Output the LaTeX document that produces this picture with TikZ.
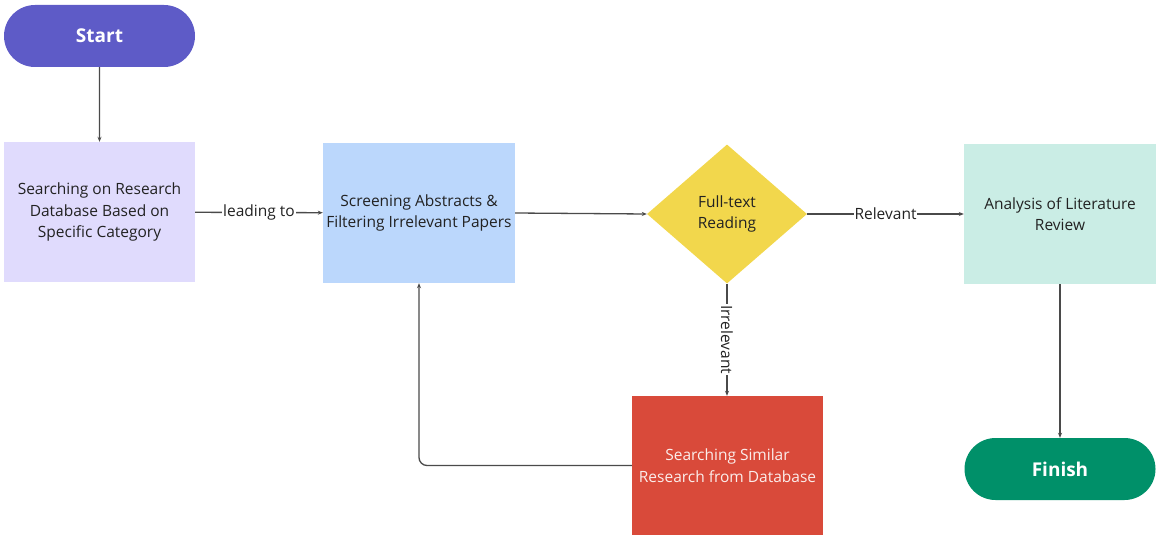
\documentclass[tikz,border=0pt]{standalone}
\usepackage{fontspec}
\setmainfont{Open Sans}
\usetikzlibrary{shapes.geometric,shapes.misc,arrows.meta}
\definecolor{startc}{HTML}{5E5BC7}
\definecolor{lav}{HTML}{E0DBFD}
\definecolor{bluec}{HTML}{BBD7FC}
\definecolor{yel}{HTML}{F2D74C}
\definecolor{mint}{HTML}{CAEDE5}
\definecolor{redc}{HTML}{D94A3A}
\definecolor{finc}{HTML}{009069}
\definecolor{linec}{HTML}{4A4A4A}
\definecolor{txt}{HTML}{222222}
\tikzset{
  pill/.style={rounded rectangle,minimum width=191pt,minimum height=62pt,inner sep=0pt,text=white,font=\fontsize{19}{22}\selectfont\bfseries},
  box/.style={rectangle,minimum width=191pt,minimum height=140pt,inner sep=0pt,align=center,text=txt,font=\fontsize{15.5}{21.5}\selectfont},
  conn/.style={draw=linec,line width=1.3pt,-{Stealth[length=5pt,width=4pt]}},
  lbl/.style={fill=white,inner sep=1pt,text=txt,font=\fontsize{15.5}{17}\selectfont}
}
\begin{document}
\begin{tikzpicture}[x=1pt,y=-1pt]
\useasboundingbox (0,0) rectangle (1156,535);
\node[pill,fill=startc] (start) at (99.5,36) {Start};
\node[box,fill=lav] (search) at (99.5,212) {Searching on Research\\Database Based on\\Specific Category};
\node[box,fill=bluec,minimum width=192pt] (screen) at (419,213) {Screening Abstracts \&\\Filtering Irrelevant Papers};
\node[diamond,fill=yel,minimum width=160pt,minimum height=139pt,inner sep=0pt,aspect=1.15,align=center,text=txt,font=\fontsize{15.5}{21.5}\selectfont] (read) at (727,214) {Full-text\\Reading};
\node[box,fill=mint,minimum width=192pt] (anal) at (1060,214) {Analysis of Literature\\Review};
\node[box,fill=redc,text=white!90!redc,minimum height=139pt] (similar) at (727.5,465.5) {Searching Similar\\Research from Database};
\node[pill,fill=finc] (finish) at (1060,469) {Finish};

\draw[conn] (start) -- (search);
\draw[conn] (search) -- node[lbl] (l1) {leading to} (screen);
\draw[conn] (screen.east) -- (read.west);
\draw[conn] (read) -- node[lbl] (l2) {Relevant} (anal);
\draw[conn] (read) -- node[lbl,rotate=-90] (l3) {Irrelevant} (similar.north -| read);
\draw[conn,rounded corners=8pt] (similar.west) -| (screen.south);
\draw[conn] (anal) -- (finish);
\end{tikzpicture}
\end{document}
